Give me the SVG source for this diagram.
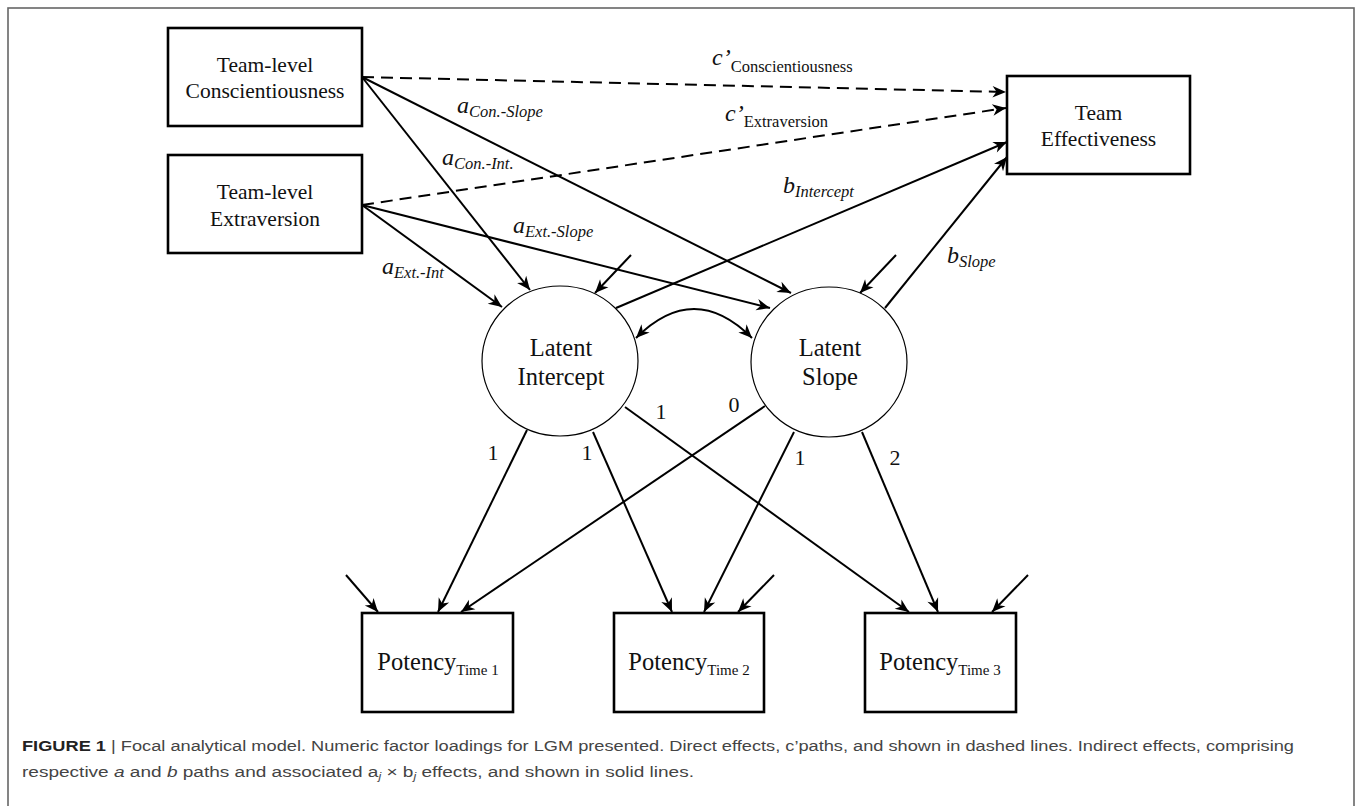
<svg xmlns="http://www.w3.org/2000/svg" width="1358" height="806" viewBox="0 0 1358 806">
<style>
.box{fill:#fff;stroke:#000;stroke-width:2.6}
.circ{fill:#fff;stroke:#000;stroke-width:1.2}
.lbl{font-family:"Liberation Serif","Times New Roman",serif;font-size:21.5px;fill:#111;text-anchor:middle}
.big{font-family:"Liberation Serif","Times New Roman",serif;font-size:24.5px;fill:#111;text-anchor:middle}
.num{font-family:"Liberation Serif","Times New Roman",serif;font-size:22px;fill:#111;text-anchor:middle}
.it{font-family:"Liberation Serif","Times New Roman",serif;font-style:italic;font-size:24px;fill:#111}
.sub{font-size:16.5px}
.up{font-style:normal}
.ln{fill:none;stroke:#000;stroke-width:2}
.dash{stroke-dasharray:12 7}
.cap{font-family:"Liberation Sans",Arial,sans-serif;font-size:15.5px;fill:#444}
</style>
<defs>
<marker id="ah" markerUnits="userSpaceOnUse" markerWidth="16" markerHeight="14" viewBox="0 0 16 14" refX="15" refY="7" orient="auto-start-reverse">
<path d="M15,7 L1.5,1.2 L5.5,7 L1.5,12.8 Z" fill="#000"/>
</marker>
</defs>
<rect x="8" y="8" width="1346" height="820" fill="none" stroke="#666" stroke-width="1.6"/>

<g id="connectors">
<line class="ln dash" x1="362" y1="77" x2="1006" y2="92" marker-end="url(#ah)"/>
<line class="ln dash" x1="362" y1="205" x2="1006" y2="108" marker-end="url(#ah)"/>
<line class="ln" x1="362" y1="77" x2="530" y2="290" marker-end="url(#ah)"/>
<line class="ln" x1="362" y1="77" x2="791" y2="293" marker-end="url(#ah)"/>
<line class="ln" x1="362" y1="205" x2="502" y2="307" marker-end="url(#ah)"/>
<line class="ln" x1="362" y1="205" x2="770" y2="308" marker-end="url(#ah)"/>
<line class="ln" x1="616" y1="308" x2="1007" y2="142" marker-end="url(#ah)"/>
<line class="ln" x1="885" y1="308" x2="1007" y2="157" marker-end="url(#ah)"/>
<line class="ln" x1="631" y1="255" x2="595" y2="293" marker-end="url(#ah)"/>
<line class="ln" x1="896" y1="255" x2="860" y2="293" marker-end="url(#ah)"/>
<path class="ln" d="M636,338 Q694,280 752,338" marker-start="url(#ah)" marker-end="url(#ah)"/>
<line class="ln" x1="527" y1="430" x2="438" y2="612" marker-end="url(#ah)"/>
<line class="ln" x1="593" y1="432" x2="672" y2="612" marker-end="url(#ah)"/>
<line class="ln" x1="625" y1="407" x2="909" y2="612" marker-end="url(#ah)"/>
<line class="ln" x1="765" y1="406" x2="461" y2="612" marker-end="url(#ah)"/>
<line class="ln" x1="794" y1="432" x2="704" y2="612" marker-end="url(#ah)"/>
<line class="ln" x1="862" y1="432" x2="938" y2="612" marker-end="url(#ah)"/>
<line class="ln" x1="346" y1="575" x2="378" y2="612" marker-end="url(#ah)"/>
<line class="ln" x1="774" y1="575" x2="738" y2="612" marker-end="url(#ah)"/>
<line class="ln" x1="1028" y1="575" x2="992" y2="612" marker-end="url(#ah)"/>
</g>

<g id="edge-labels">
<text class="it" x="712" y="65">c’<tspan class="sub up" dy="7">Conscientiousness</tspan></text>
<text class="it" x="725" y="121">c’<tspan class="sub up" dy="6">Extraversion</tspan></text>
<text class="it" x="457" y="113">a<tspan class="sub" dy="4">Con.-Slope</tspan></text>
<text class="it" x="442" y="165">a<tspan class="sub" dy="4">Con.-Int.</tspan></text>
<text class="it" x="513" y="233">a<tspan class="sub" dy="4">Ext.-Slope</tspan></text>
<text class="it" x="382" y="274">a<tspan class="sub" dy="4">Ext.-Int</tspan></text>
<text class="it" x="783" y="193">b<tspan class="sub" dy="4">Intercept</tspan></text>
<text class="it" x="947" y="263">b<tspan class="sub" dy="4">Slope</tspan></text>
<text class="num" x="493" y="460">1</text>
<text class="num" x="587" y="460">1</text>
<text class="num" x="661" y="419">1</text>
<text class="num" x="734" y="412">0</text>
<text class="num" x="800" y="465">1</text>
<text class="num" x="895" y="465">2</text>
</g>

<g id="node-conscientiousness">
<rect class="box" x="168" y="28" width="194" height="98"/>
<text class="lbl" x="265" y="72">Team-level</text>
<text class="lbl" x="265" y="98">Conscientiousness</text>
</g>
<g id="node-extraversion">
<rect class="box" x="168" y="155" width="194" height="98"/>
<text class="lbl" x="265" y="199">Team-level</text>
<text class="lbl" x="265" y="226">Extraversion</text>
</g>
<g id="node-team-effectiveness">
<rect class="box" x="1007" y="76" width="183" height="98"/>
<text class="lbl" x="1098.5" y="120">Team</text>
<text class="lbl" x="1098.5" y="146">Effectiveness</text>
</g>
<g id="node-latent-intercept">
<ellipse class="circ" cx="560" cy="361" rx="78" ry="75"/>
<text class="big" x="561" y="356">Latent</text>
<text class="big" x="561" y="385">Intercept</text>
</g>
<g id="node-latent-slope">
<ellipse class="circ" cx="829" cy="362" rx="78" ry="75"/>
<text class="big" x="830" y="356">Latent</text>
<text class="big" x="830" y="385">Slope</text>
</g>
<g id="node-potency-1">
<rect class="box" x="362" y="613" width="151" height="99"/>
<text class="big" x="438" y="670">Potency<tspan style="font-size:15px" dy="5">Time 1</tspan></text>
</g>
<g id="node-potency-2">
<rect class="box" x="614" y="613" width="150" height="99"/>
<text class="big" x="689" y="670">Potency<tspan style="font-size:15px" dy="5">Time 2</tspan></text>
</g>
<g id="node-potency-3">
<rect class="box" x="865" y="613" width="151" height="99"/>
<text class="big" x="940" y="670">Potency<tspan style="font-size:15px" dy="5">Time 3</tspan></text>
</g>

<g id="caption">
<text class="cap" x="22" y="751" textLength="1272" lengthAdjust="spacingAndGlyphs"><tspan font-weight="bold" fill="#222">FIGURE 1</tspan> | Focal analytical model. Numeric factor loadings for LGM presented. Direct effects, c’paths, and shown in dashed lines. Indirect effects, comprising</text>
<text class="cap" x="22" y="777" textLength="672" lengthAdjust="spacingAndGlyphs">respective <tspan font-style="italic">a</tspan> and <tspan font-style="italic">b</tspan> paths and associated a<tspan font-style="italic" font-size="10px" dy="3">j</tspan><tspan dy="-3"> × b</tspan><tspan font-style="italic" font-size="10px" dy="3">j</tspan><tspan dy="-3"> effects, and shown in solid lines.</tspan></text>
</g>
</svg>
